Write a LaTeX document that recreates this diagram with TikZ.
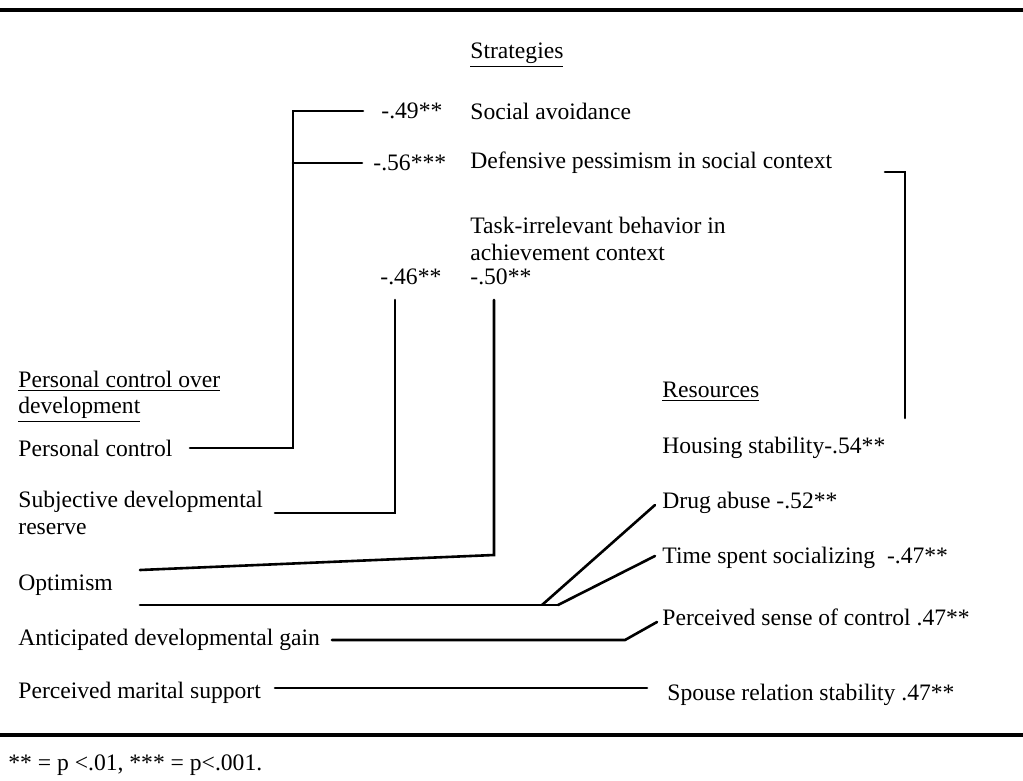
\documentclass[tikz,border=0pt]{standalone}
\usepackage{fontspec}
\setmainfont{Liberation Serif}
\newcommand{\rulewd}{2pt}
\newcommand{\linkwd}{1.3pt}
\newcommand{\txtsize}{\fontsize{11.8}{13.2}\selectfont}

\begin{document}
\begin{tikzpicture}[x=0.5pt, y=-0.5pt,
    lbl/.style={anchor=west, inner sep=0pt, align=left, font=\txtsize},
    link/.style={line width=\linkwd, line cap=round, line join=miter}]
        \useasboundingbox (0, 0) rectangle (1023, 781);

        % rules
        \coordinate (ruleTL) at (0, 10);
        \coordinate (ruleTR) at (1023, 10);
        \coordinate (ruleBL) at (0, 735);
        \coordinate (ruleBR) at (1023, 735);
        \draw[line width=\rulewd] (ruleTL) -- (ruleTR);
        \draw[line width=\rulewd] (ruleBL) -- (ruleBR);

        % strategies
        \node[lbl] (strat) at (470, 55) {\underline{Strategies}};
        \node[lbl] (n49) at (381, 111) {-.49**};
        \node[lbl] (socav) at (470, 111) {Social avoidance};
        \node[lbl] (n56) at (373, 163) {-.56***};
        \node[lbl] (defpes) at (470, 163) {Defensive pessimism in social context};
        \node[lbl] (taskirr) at (470, 239) {Task-irrelevant behavior in\\achievement context};
        \node[lbl] (n46) at (380, 277) {-.46**};
        \node[lbl] (n50) at (470, 277) {-.50**};

        % personal control over development
        \node[lbl] (pcod) at (18, 397) {\underline{Personal control over}\\\underline{development}};
        \node[lbl] (pc) at (18, 448) {Personal control};
        \node[lbl] (sdr) at (18, 513) {Subjective developmental\\reserve};
        \node[lbl] (opt) at (18, 585) {Optimism};
        \node[lbl] (adg) at (18, 640) {Anticipated developmental gain};
        \node[lbl] (pms) at (18, 693) {Perceived marital support};

        % resources
        \node[lbl] (res) at (662, 392) {\underline{Resources}};
        \node[lbl] (housing) at (662, 448) {Housing stability-.54**};
        \node[lbl] (drug) at (662, 503) {Drug abuse -.52**};
        \node[lbl] (social) at (662, 558) {Time spent socializing \ -.47**};
        \node[lbl] (sense) at (662, 617) {Perceived sense of control .47**};
        \node[lbl] (spouse) at (667, 695) {Spouse relation stability .47**};

        \node[lbl] (foot) at (8, 765) {** = p <.01, *** = p<.001.};

        % bend points
        \coordinate (pcA) at (190, 448);
        \coordinate (pcB) at (293, 448);
        \coordinate (pcC) at (293, 111);
        \coordinate (pcD) at (363, 111);
        \coordinate (pcE) at (293, 163);
        \coordinate (pcF) at (362, 163);
        \coordinate (sdrA) at (275, 513);
        \coordinate (sdrB) at (395, 513);
        \coordinate (sdrC) at (395, 300);
        \coordinate (optA) at (140, 570);
        \coordinate (optB) at (494, 555);
        \coordinate (optC) at (494, 300);
        \coordinate (optD) at (140, 605);
        \coordinate (optE) at (542, 605);
        \coordinate (optF) at (558, 605);
        \coordinate (drugA) at (655, 505);
        \coordinate (socA) at (655, 556);
        \coordinate (adgA) at (332, 640);
        \coordinate (adgB) at (625, 640);
        \coordinate (senseA) at (657, 622);
        \coordinate (pmsA) at (275, 688);
        \coordinate (pmsB) at (647, 688);
        \coordinate (dpA) at (885, 172);
        \coordinate (dpB) at (905, 172);
        \coordinate (dpC) at (905, 418);

        % links
        \draw[link] (pcA) -- (pcB) -- (pcC) -- (pcD);
        \draw[link] (pcE) -- (pcF);
        \draw[link] (sdrA) -- (sdrB) -- (sdrC);
        \draw[link] (optA) -- (optB) -- (optC);
        \draw[link] (optD) -- (optF);
        \draw[link] (optE) -- (drugA);
        \draw[link] (optF) -- (socA);
        \draw[link] (adgA) -- (adgB) -- (senseA);
        \draw[link] (pmsA) -- (pmsB);
        \draw[link] (dpA) -- (dpB) -- (dpC);
    \end{tikzpicture}
\end{document}
